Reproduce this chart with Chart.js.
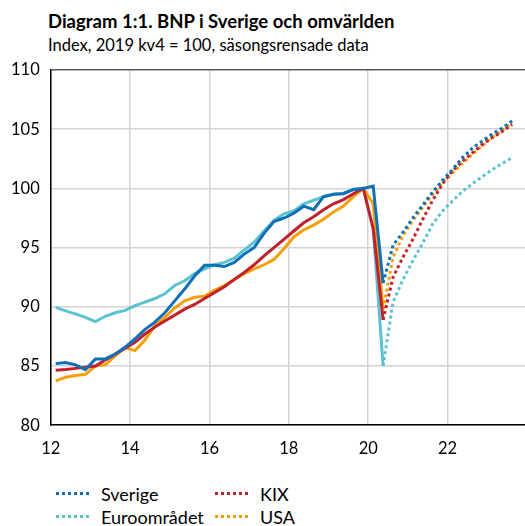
<!DOCTYPE html>
<html>
<head>
<meta charset="utf-8">
<script src="https://cdn.jsdelivr.net/npm/chart.js@4/dist/chart.umd.min.js"></script>
<style>
body { margin: 0; width: 525px; height: 526px; overflow: hidden; background: #fff; position: relative; font-family: Lato, "Open Sans", sans-serif; color: #000; }
#title { position: absolute; left: 48px; top: 10px; font-size: 18.5px; font-weight: bold; white-space: nowrap; }
#sub { position: absolute; left: 48px; top: 35px; font-size: 16.5px; white-space: nowrap; }
#wrap { position: absolute; left: 0; top: 0; width: 528px; height: 480px; }
#legend { position: absolute; left: 56px; top: 483px; display: grid; grid-template-columns: 159px auto; row-gap: 2px; font-size: 18px; }
.item { display: flex; align-items: center; height: 21px; }
.swatch { width: 36px; height: 3px; margin-right: 9px; }
</style>
</head>
<body>
<div id="title">Diagram 1:1. BNP i Sverige och omvärlden</div>
<div id="sub">Index, 2019 kv4 = 100, säsongsrensade data</div>
<div id="wrap"><canvas id="chart"></canvas></div>
<div id="legend"></div>
<script>
// Kvartal från 2012 kv1 till 2023 kv3, utfall t.o.m. 2020 kv2
const startYear = 12;
const lastOutcome = 33;

const sverige = [85.2, 85.3, 85.1, 84.7, 85.6, 85.6, 86.0, 86.6, 87.3, 88.1, 88.7, 89.5,
  90.5, 91.5, 92.6, 93.5, 93.5, 93.4, 93.75, 94.45, 95.0, 96.2, 97.2, 97.5,
  97.9, 98.5, 98.2, 99.3, 99.5, 99.55, 99.9, 100.0, 100.2, 92.0,
  95.2, 96.3, 97.5, 98.6, 99.7, 100.7, 101.6, 102.6, 103.4, 104.0, 104.6, 105.1, 105.7];
const kix = [84.65, 84.7, 84.8, 84.9, 85.0, 85.5, 86.0, 86.5, 87.0, 87.7, 88.3, 88.8,
  89.3, 89.8, 90.2, 90.7, 91.2, 91.7, 92.3, 92.9, 93.55, 94.3, 95.0, 95.7,
  96.4, 97.1, 97.6, 98.2, 98.7, 99.05, 99.55, 100.0, 96.6, 88.9,
  92.5, 94.2, 95.7, 97.4, 99.0, 100.4, 101.5, 102.3, 103.0, 103.7, 104.3, 104.8, 105.4];
const usa = [83.75, 84.05, 84.2, 84.3, 85.0, 85.1, 85.85, 86.55, 86.3, 87.2, 88.4, 89.1,
  89.9, 90.5, 90.8, 90.9, 91.4, 91.8, 92.3, 92.8, 93.2, 93.55, 94.0, 94.9,
  95.9, 96.5, 96.9, 97.4, 98.0, 98.5, 99.3, 100.0, 98.7, 89.8,
  94.2, 96.0, 97.3, 98.4, 99.5, 100.5, 101.3, 102.1, 102.9, 103.6, 104.3, 104.9, 105.5];
const euro = [89.95, 89.65, 89.4, 89.1, 88.75, 89.2, 89.5, 89.7, 90.1, 90.4, 90.7, 91.1,
  91.8, 92.2, 92.8, 93.2, 93.55, 93.75, 94.1, 94.8, 95.45, 96.4, 97.3, 97.85,
  98.1, 98.7, 99.0, 99.3, 99.5, 99.6, 99.9, 100.0, 96.6, 85.0,
  90.4, 92.3, 93.9, 95.4, 97.0, 98.1, 98.95, 99.75, 100.4, 101.0, 101.6, 102.1, 102.6];

const xTicks = [12, 14, 16, 18, 20, 22];
const yTicks = [80, 85, 90, 95, 100, 105, 110];

// Mitt i kvartalet
function toPoints(values) {
    return values.map((v, i) => ({ x: startYear + 0.125 + i * 0.25, y: v }));
}

function series(label, values, color) {
    return {
        label: label,
        data: toPoints(values),
        borderColor: color,
        backgroundColor: color,
        borderWidth: 3,
        pointRadius: 0,
        tension: 0,
        borderCapStyle: "butt",
        segment: {
            borderDash: ctx => ctx.p0DataIndex >= lastOutcome ? [3, 3] : undefined
        }
    };
}

const datasets = [
    series("Sverige", sverige, "#0f6fb7"),
    series("KIX", kix, "#c3202d"),
    series("USA", usa, "#f5a00a"),
    series("Euroområdet", euro, "#5cc2d2")
];

new Chart(document.getElementById("chart"), {
    type: "line",
    data: { datasets: datasets },
    options: {
        responsive: true,
        maintainAspectRatio: false,
        animation: false,
        layout: { padding: { top: 70, left: 0, right: 1, bottom: 7 } },
        plugins: { legend: { display: false }, tooltip: { enabled: false } },
        scales: {
            x: {
                type: "linear",
                min: 12,
                max: 24,
                afterBuildTicks: axis => { axis.ticks = xTicks.map(v => ({ value: v })); },
                grid: { color: "#d4d4d4", lineWidth: 1.5, drawTicks: false },
                border: { color: "#000", width: 1.5 },
                ticks: { padding: 14, color: "#000", font: { family: "Lato", size: 16.5 } }
            },
            y: {
                min: 80,
                max: 110,
                afterBuildTicks: axis => { axis.ticks = yTicks.map(v => ({ value: v })); },
                grid: {
                    color: ctx => ctx.tick && ctx.tick.value === 110 ? "#5a5a5a" : "#d4d4d4",
                    lineWidth: 1.5,
                    drawTicks: false
                },
                border: { color: "#000", width: 1.5 },
                ticks: { padding: 11, color: "#000", font: { family: "Lato", size: 16.5 } }
            }
        }
    }
});

// Legend i två kolumner med prickade linjer
const legendOrder = [["Sverige", "#0f6fb7"], ["KIX", "#c3202d"], ["Euroområdet", "#5cc2d2"], ["USA", "#f5a00a"]];
const legend = document.getElementById("legend");
legendOrder.forEach(([name, color]) => {
    const item = document.createElement("div");
    item.className = "item";
    const sw = document.createElement("span");
    sw.className = "swatch";
    sw.style.background = "repeating-linear-gradient(90deg," + color + " 0 3px, transparent 3px 6px)";
    item.appendChild(sw);
    item.appendChild(document.createTextNode(name));
    legend.appendChild(item);
});
</script>
</body>
</html>
